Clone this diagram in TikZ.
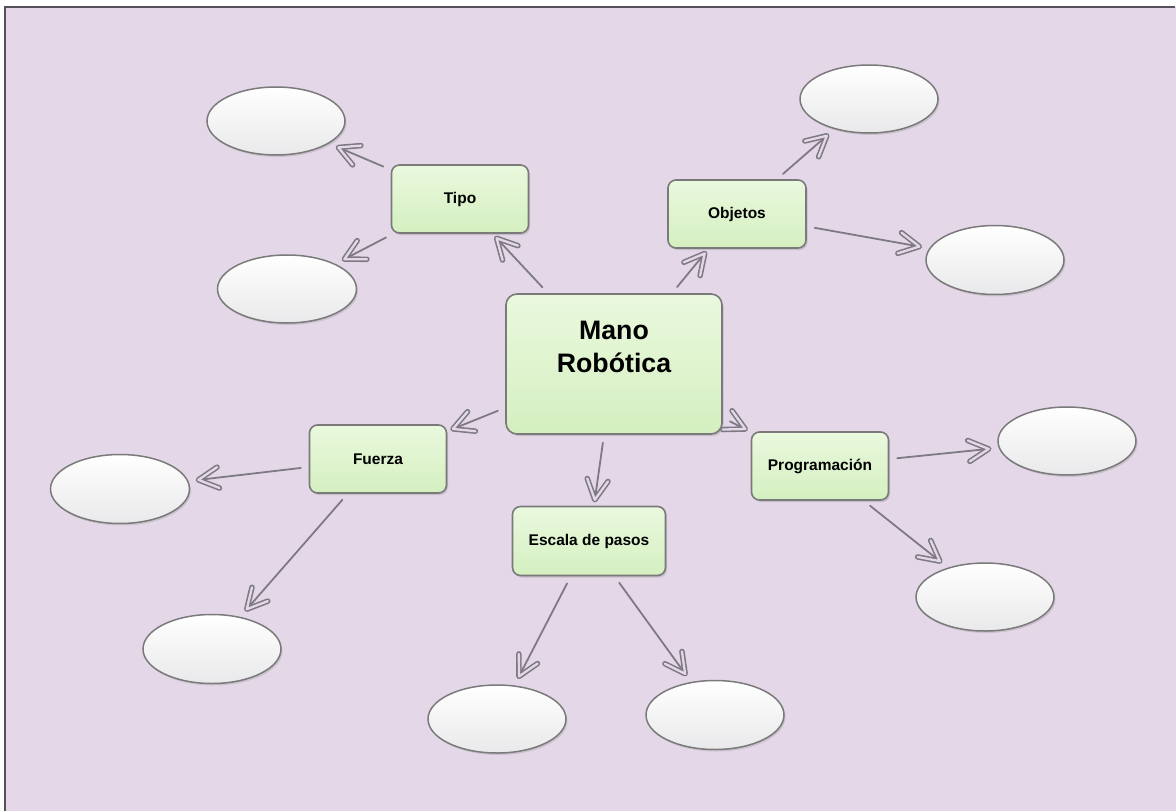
\documentclass[tikz,border=0pt]{standalone}
\usepackage{fontspec}
\setmainfont{Liberation Sans}
\usetikzlibrary{arrows.meta,shapes.geometric,shadows,decorations.markings}
\definecolor{bgc}{HTML}{E4D8E8}
\definecolor{framec}{HTML}{55505A}
\definecolor{linec}{HTML}{7E7A84}
\definecolor{boxtop}{HTML}{EAF9DE}
\definecolor{boxbot}{HTML}{D4EFC0}
\definecolor{boxedge}{HTML}{7A7A7A}
\definecolor{elbot}{HTML}{E9E9EB}
\tikzset{
  topic/.style={rectangle, rounded corners=8pt, draw=boxedge, line width=1.6pt,
    top color=boxtop, bottom color=boxbot,
    drop shadow={shadow xshift=1.5pt, shadow yshift=-2pt, opacity=0.3},
    minimum width=137pt, minimum height=68pt, inner sep=0pt,
    font=\fontsize{15.5}{18}\selectfont\bfseries},
  leaf/.style={ellipse, draw=boxedge, line width=1.5pt,
    top color=white, bottom color=elbot,
    drop shadow={shadow xshift=1.5pt, shadow yshift=-2pt, opacity=0.25},
    minimum width=138pt, minimum height=68pt, inner sep=0pt},
  shaft/.style={draw=linec, line width=1.8pt, line cap=round, shorten <=8pt},
  chevron/.style={decorate, decoration={markings,
    mark=at position -#1 with {
      \draw[linec, line width=5.5pt, line cap=round, line join=round]
        (-20pt,10.5pt) -- (0pt,0pt) -- (-20pt,-10.5pt);
      \draw[bgc, line width=2.3pt, line cap=round, line join=round]
        (-20pt,10.5pt) -- (0pt,0pt) -- (-20pt,-10.5pt);
    }}}
}
\newcommand\myconn[3][6pt]{%
  \draw[shaft, shorten >=#1] (#2) -- (#3);
  \path[chevron=#1] (#2) -- (#3);}
\begin{document}
\begin{tikzpicture}[x=1pt,y=-1pt]
\useasboundingbox (0,0) rectangle (1176,811);
\fill[white] (0,0) rectangle (1176,811);
\fill[bgc] (5,7) rectangle (1176,811);
\draw[line width=1.5pt, framec] (5,811) -- (5,7) -- (1175,7);

% central node
\node[topic, minimum width=216pt, minimum height=140pt, rounded corners=11pt] (mano) at (614,364) {};
\node[font=\fontsize{26.7}{32.7}\selectfont\bfseries, align=center, inner sep=0pt] (manotext) at (614,347) {Mano\\Robótica};

% topics
\node[topic] (tipo) at (460,199) {Tipo};
\node[topic, minimum width=138pt] (obj) at (737,214) {Objetos};
\node[topic] (fuerza) at (378,459) {Fuerza};
\node[topic, minimum width=153pt, minimum height=69pt] (escala) at (589,541) {Escala de pasos};
\node[topic] (prog) at (820,466) {Programación};

% leaves
\node[leaf] (e1) at (276,121) {};
\node[leaf, minimum width=139pt] (e2) at (287,289) {};
\node[leaf] (e3) at (869,99) {};
\node[leaf, minimum height=69pt] (e4) at (995,260) {};
\node[leaf] (e5) at (1067,441) {};
\node[leaf] (e6) at (985,597) {};
\node[leaf, minimum width=139pt, minimum height=69pt] (e7) at (120,489) {};
\node[leaf, minimum height=69pt] (e8) at (212,649) {};
\node[leaf] (e9) at (497,719) {};
\node[leaf, minimum height=69pt] (e10) at (715,715) {};

% connectors
\myconn{mano}{tipo}
\myconn{mano}{obj}
\myconn{mano}{fuerza}
\myconn{mano}{escala}
\myconn{mano}{prog}
\myconn[10pt]{tipo}{e1}
\myconn[10pt]{tipo}{e2}
\myconn[10pt]{obj}{e3}
\myconn[10pt]{obj}{e4}
\myconn[10pt]{fuerza}{e7}
\myconn[10pt]{fuerza}{e8}
\myconn[10pt]{escala}{e9}
\myconn[10pt]{escala}{e10}
\myconn[10pt]{prog}{e5}
\myconn[10pt]{prog}{e6}
\end{tikzpicture}
\end{document}
